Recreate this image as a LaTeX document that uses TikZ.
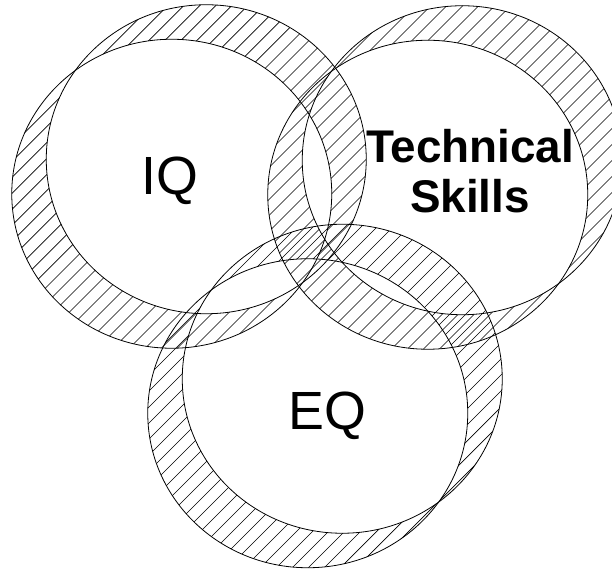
\documentclass[tikz,border=0pt]{standalone}
\usepackage{fontspec}
\setmainfont{Liberation Sans}
\usepackage{tikz}

\tikzset{
  rim/.style={draw=black, line width=0.8bp},
  hatch/.style={black, line width=0.7bp},
  label/.style={inner sep=0pt, anchor=base}
}

\begin{document}
\begin{tikzpicture}[x=1bp, y=1bp]
\useasboundingbox (0,0) rectangle (612,569);
\clip (0,0) rectangle (612,569);

% Rings: two offset ellipses each, band hatched with even odd clip
\foreach \cx/\cy/\ph in {189/392.5/0, 445/391.5/6, 325/173/11} {
  \begin{scope}[even odd rule]
    \clip (\cx+17.25,\cy+17.25) ellipse (160 and 154.5)
          (\cx-17.25,\cy-17.25) ellipse (160 and 154.5);
    \foreach \k in {-23,...,23}
      \draw[hatch] (\cx+\k*16+\ph-200,\cy-200) -- ++(400,400);
  \end{scope}
  \draw[rim] (\cx+17.25,\cy+17.25) ellipse (160 and 154.5);
  \draw[rim] (\cx-17.25,\cy-17.25) ellipse (160 and 154.5);
}

% Labels
\node[label, font=\fontsize{54}{60}\selectfont] (iq) at (170,374) {IQ};
\node[label, font=\fontsize{54}{60}\selectfont] (eq) at (327,139) {EQ};
\node[inner sep=0pt, align=center, font=\fontsize{46}{50}\bfseries\selectfont]
  (tech) at (470,397.5) {Technical\\Skills};
\end{tikzpicture}
\end{document}
